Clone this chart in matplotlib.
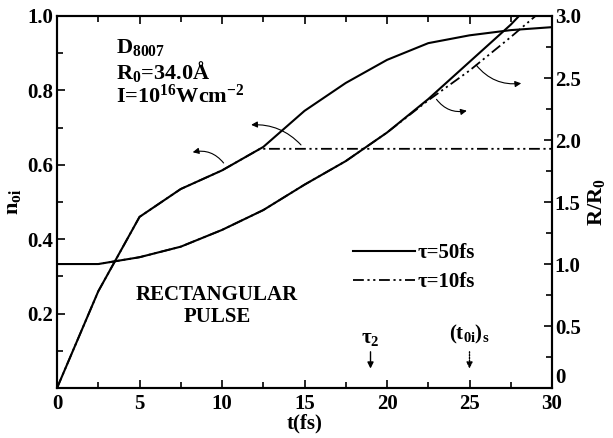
import matplotlib
matplotlib.use("Agg")
import matplotlib.pyplot as plt
from matplotlib.ticker import MultipleLocator, FixedFormatter, FixedLocator

plt.rcParams['font.family'] = ['Liberation Serif', 'DejaVu Serif']
plt.rcParams['font.weight'] = 'bold'
plt.rcParams['mathtext.fontset'] = 'custom'
plt.rcParams['mathtext.rm'] = 'Liberation Serif:bold'
plt.rcParams['mathtext.it'] = 'Liberation Serif:bold'
plt.rcParams['mathtext.bf'] = 'Liberation Serif:bold'

# ion fraction n_oi (left axis)
t_noi_50 = [0, 2.5, 5, 7.5, 10, 12.5, 15, 17.5, 20, 22.5, 25, 27.5, 30]
noi_50 = [0, 0.26, 0.46, 0.535, 0.585, 0.648, 0.745, 0.82, 0.882, 0.927, 0.948, 0.962, 0.970]
t_noi_10 = [0, 2.5, 5, 7.5, 10, 12.3, 30]
noi_10 = [0, 0.26, 0.46, 0.535, 0.585, 0.643, 0.643]

# cluster radius R/R0 (right axis)
t_R_50 = [0, 2.5, 5, 7.5, 10, 12.5, 15, 17.5, 20, 22.5, 25, 27.5, 28.0]
R_50 = [1.0, 1.0, 1.055, 1.14, 1.275, 1.435, 1.64, 1.83, 2.06, 2.33, 2.63, 2.93, 3.0]
t_R_10 = [0, 2.5, 5, 7.5, 10, 12.5, 15, 17.5, 20, 22.5, 25, 27.5, 29.0]
R_10 = [1.0, 1.0, 1.055, 1.14, 1.275, 1.435, 1.64, 1.83, 2.06, 2.32, 2.56, 2.83, 3.0]

left_ticks = [0, 0.2, 0.4, 0.6, 0.8, 1.0]
left_labels = ['', '0.2', '0.4', '0.6', '0.8', '1.0']
right_ticks = [0, 0.5, 1.0, 1.5, 2.0, 2.5, 3.0]
right_labels = ['0', '0.5', '1.0', '1.5', '2.0', '2.5', '3.0']

tau2 = 19
t0i_s = 25

dashdotdot = (0, (6, 2, 1.2, 2, 1.2, 2))

fig = plt.figure(figsize=(6.13, 4.38), dpi=100)
ax = fig.add_axes([0.093, 0.114, 0.8075, 0.8495])
ax2 = ax.twinx()

l50, = ax.plot(t_noi_50, noi_50, color='black', lw=1.5)
l10, = ax.plot(t_noi_10, noi_10, color='black', lw=1.3, linestyle=dashdotdot)
ax2.plot(t_R_50, R_50, color='black', lw=1.5)
ax2.plot(t_R_10, R_10, color='black', lw=1.3, linestyle=dashdotdot)

ax.set_xlim(0, 30)
ax.set_ylim(0, 1.0)
ax2.set_ylim(0, 3.0)

ax.xaxis.set_major_locator(MultipleLocator(5))
ax.xaxis.set_minor_locator(MultipleLocator(2.5))
ax.yaxis.set_major_locator(FixedLocator(left_ticks))
ax.yaxis.set_major_formatter(FixedFormatter(left_labels))
ax.yaxis.set_minor_locator(MultipleLocator(0.1))
ax2.yaxis.set_major_locator(FixedLocator(right_ticks))
ax2.yaxis.set_major_formatter(FixedFormatter(right_labels))
ax2.yaxis.set_minor_locator(MultipleLocator(0.25))

ax.tick_params(which='both', direction='in', top=True, labelsize=15, width=1.2)
ax.tick_params(which='major', length=6)
ax.tick_params(which='minor', length=4)
ax.tick_params(axis='y', pad=3)
ax.tick_params(axis='x', pad=4)
ax2.tick_params(which='both', direction='in', labelsize=15, width=1.2, pad=2)
ax2.tick_params(which='major', length=6)
ax2.tick_params(which='minor', length=4)
for a in (ax, ax2):
    for s in a.spines.values():
        s.set_linewidth(1.5)

# lift the right-hand "0" clear of the x tick label "30"
fig.canvas.draw()
ax2.get_yticklabels()[0].set_verticalalignment('bottom')

ax.set_xlabel('t(fs)', fontsize=15, fontweight='bold', labelpad=0)
ax.set_ylabel('n$_{oi}$', fontsize=16, fontweight='bold', labelpad=3)
ax2.set_ylabel('R/R$_0$', fontsize=16, fontweight='bold', labelpad=4)

ax.text(3.6, 0.915, 'D$_{8007}$', fontsize=16, va='center')
ax.text(3.6, 0.852, 'R$_0$=34.0Å', fontsize=16, va='center')
ax.text(3.6, 0.785, 'I=10$^{16}$Wcm$^{-2}$', fontsize=16, va='center')
ax.text(9.7, 0.22, 'RECTANGULAR\nPULSE', fontsize=15, ha='center', va='center',
        linespacing=1.1)

ax.legend([l50, l10], ['τ=50fs', 'τ=10fs'], loc='upper left',
          bbox_to_anchor=(0.56, 0.44), frameon=False, fontsize=15,
          handlelength=3.0, handletextpad=0.1, labelspacing=0.45)

arrow = dict(arrowstyle='-|>', color='black', lw=0.8, mutation_scale=9)
ax.annotate('', xy=(8.06, 0.632), xytext=(10.2, 0.599),
            arrowprops=dict(arrow, connectionstyle='arc3,rad=0.35'))
ax.annotate('', xy=(11.6, 0.707), xytext=(14.9, 0.648),
            arrowprops=dict(arrow, connectionstyle='arc3,rad=0.25'))
ax.annotate('', xy=(25.0, 0.747), xytext=(22.9, 0.782),
            arrowprops=dict(arrow, connectionstyle='arc3,rad=0.35'))
ax.annotate('', xy=(28.3, 0.820), xytext=(25.3, 0.874),
            arrowprops=dict(arrow, connectionstyle='arc3,rad=0.3'))

ax.annotate('', xy=(tau2, 0.045), xytext=(tau2, 0.105),
            arrowprops=dict(arrowstyle='-|>', color='black', lw=1.0, mutation_scale=9))
ax.annotate('', xy=(t0i_s, 0.045), xytext=(t0i_s, 0.105),
            arrowprops=dict(arrowstyle='-|>', color='black', lw=1.0, mutation_scale=9,
                            linestyle=(0, (1, 1))))
ax.text(tau2, 0.135, 'τ$_2$', fontsize=15, ha='center', va='center')
ax.text(t0i_s, 0.145, '(t$_{0i}$)$_s$', fontsize=15, ha='center', va='center')

fig.savefig('out.png', dpi=100)
